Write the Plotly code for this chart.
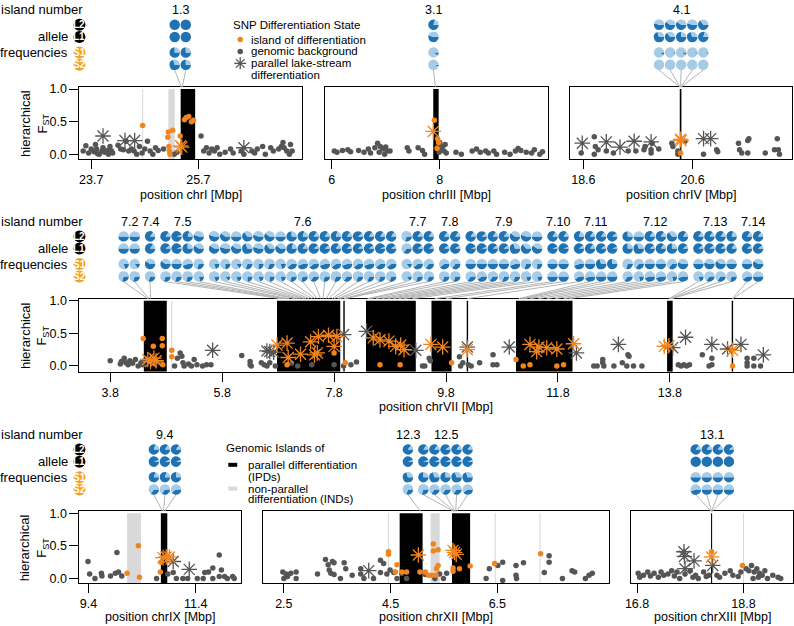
import plotly.graph_objects as go

W, H = 794, 626
FONT = "Arial"
DARK_BLUE = "#1f73b3"
LIGHT_BLUE = "#a6cbe6"
ORANGE = "#f08520"
GOLD = "#f6a21c"
GREY_PT = "#555555"
IND_GREY = "#d9d9d9"
LINK_GREY = "#b4b4b4"

# ---------------- data ----------------
# SNPs: (position [Mbp], hierarchical FST)
chrI_bg = [(23.55, 0.05), (23.6, 0.13), (23.65, 0.02), (23.7, 0.08), (23.75, 0.04), (23.78, 0.15), (23.8, 0.08),
           (23.82, 0.01), (23.85, 0.0), (23.9, 0.05), (23.92, 0.1), (23.95, 0.03), (24.0, 0.06), (24.02, 0.0),
           (24.05, 0.12), (24.08, 0.05), (24.1, 0.02), (24.2, 0.14), (24.25, 0.08), (24.3, 0.07), (24.35, 0.2),
           (24.4, 0.05), (24.45, 0.08), (24.5, 0.05), (24.55, 0.0), (24.6, 0.12), (24.65, 0.02), (24.7, 0.08),
           (24.75, 0.2), (24.8, 0.05), (24.85, 0.0), (24.9, 0.1), (24.95, 0.06), (25.05, 0.08), (25.25, 0.0),
           (25.3, 0.03), (25.75, 0.28), (25.8, 0.05), (25.85, 0.1), (25.9, 0.02), (25.95, 0.08), (26.0, 0.05),
           (26.05, 0.1), (26.1, 0.0), (26.2, 0.03), (26.3, 0.08), (26.35, 0.02), (26.5, 0.05), (26.55, 0.0),
           (26.7, 0.05), (26.75, 0.02), (26.8, 0.08), (26.9, 0.12), (26.95, 0.0), (27.05, 0.1), (27.1, 0.05),
           (27.2, 0.08), (27.25, 0.12), (27.28, 0.18), (27.3, 0.1), (27.35, 0.05), (27.4, 0.0), (27.42, 0.15),
           (27.45, 0.05)]
chrI_bg_star = [(23.92, 0.28), (24.33, 0.21), (24.51, 0.21), (26.55, 0.1)]
chrI_isl = [(24.66, 0.44), (25.14, 0.34), (25.13, 0.26), (25.15, 0.12), (25.16, 0.05), (25.17, 0.0), (25.22, 0.37),
            (25.36, 0.28), (25.44, 0.53), (25.47, 0.56), (25.52, 0.58), (25.57, 0.5), (25.61, 0.52)]
chrI_isl_star = [(25.37, 0.13), (25.39, 0.11)]

chrIII_bg = [(6.05, 0.05), (6.1, 0.03), (6.2, 0.06), (6.3, 0.07), (6.35, 0.04), (6.5, 0.06), (6.6, 0.03), (6.68, 0.08),
             (6.72, 0.02), (6.8, 0.1), (6.85, 0.17), (6.9, 0.12), (6.95, 0.08), (7.0, 0.11), (7.03, 0.05), (7.08, 0.05),
             (6.88, 0.03), (6.98, 0.0), (7.4, 0.1), (7.43, 0.05), (7.6, 0.1), (7.68, 0.06), (7.72, 0.0), (7.97, 0.12),
             (8.0, 0.18), (8.02, 0.08), (8.05, 0.12), (8.08, 0.05), (8.1, 0.15), (7.99, 0.03), (8.12, 0.02), (8.3, 0.03),
             (8.4, 0.0), (8.6, 0.05), (8.68, 0.08), (8.75, 0.03), (8.85, 0.05), (8.9, 0.02), (9.0, 0.05), (9.05, 0.0),
             (9.2, 0.03), (9.3, 0.0), (9.4, 0.05), (9.45, 0.09), (9.5, 0.06), (9.6, 0.03), (9.7, 0.02), (9.75, 0.07),
             (9.85, 0.0), (9.9, 0.04)]
chrIII_bg_star = []
chrIII_isl = [(7.9, 0.52), (7.96, 0.24), (7.98, 0.18), (7.95, 0.09)]
chrIII_isl_star = [(7.88, 0.35)]

chrIV_bg = [(18.56, 0.02), (18.8, 0.27), (18.8, 0.0), (18.82, 0.12), (18.87, 0.07), (19.02, 0.05), (19.15, 0.02),
            (19.42, 0.05), (19.56, 0.05), (19.71, 0.07), (19.73, 0.12), (19.84, 0.07), (19.84, 0.02), (19.86, 0.17),
            (19.98, 0.08), (20.22, 0.17), (20.24, 0.12), (20.33, 0.05), (20.33, 0.0), (20.46, 0.2), (20.8, 0.0),
            (21.04, 0.07), (21.06, 0.04), (21.44, 0.17), (21.46, 0.07), (21.5, 0.02), (21.61, 0.21), (21.63, 0.24),
            (21.61, 0.02), (21.93, 0.02), (22.1, 0.07), (22.15, 0.24), (22.17, 0.07), (22.19, 0.0)]
chrIV_bg_star = [(18.58, 0.17), (19.02, 0.19), (19.27, 0.11), (19.53, 0.2), (19.84, 0.19), (20.8, 0.24), (20.93, 0.24)]
chrIV_isl = [(20.38, 0.02)]
chrIV_isl_star = [(20.38, 0.23), (20.39, 0.21)]

chrVII_bg = [(3.8, 0.08), (3.98, 0.03), (4.0, 0.07), (4.05, 0.12), (4.08, 0.05), (4.12, 0.02), (4.15, 0.08), (4.2, 0.04),
             (4.25, 0.1), (4.3, 0.0), (4.35, 0.05), (4.38, 0.02), (4.42, 0.08), (4.6, 0.03), (4.7, 0.05), (4.95, 0.0),
             (5.0, 0.12), (5.05, 0.2), (5.08, 0.15), (5.1, 0.05), (5.12, 0.0), (5.2, 0.03), (5.25, 0.0), (5.3, 0.1),
             (5.35, 0.02), (5.45, 0.0), (5.52, 0.02), (5.6, 0.02), (6.15, 0.16), (6.3, 0.07), (6.3, 0.02), (6.32, 0.0),
             (6.5, 0.05), (6.55, 0.02), (6.6, 0.0), (6.65, 0.05), (6.75, 0.0), (7.04, 0.04), (7.15, 0.0), (7.4, 0.02),
             (7.8, 0.02), (7.97, 0.0), (8.1, 0.02), (8.2, 0.06), (9.38, 0.0), (9.42, 0.0), (9.5, 0.12), (9.52, 0.08),
             (10.04, 0.14), (10.06, 0.0), (10.1, 0.05), (10.2, 0.02), (10.25, 0.0), (10.4, 0.05), (10.64, 0.17),
             (10.64, 0.02), (10.71, 0.02), (12.44, 0.0), (12.5, 0.0), (12.6, 0.1), (12.6, 0.05), (12.62, 0.0),
             (12.8, 0.0), (12.95, 0.05), (13.05, 0.17), (13.07, 0.15), (13.03, 0.0), (13.15, 0.0), (13.3, 0.0),
             (13.95, 0.02), (14.0, 0.0), (14.05, 0.02), (14.1, 0.0), (14.15, 0.02), (14.38, 0.17), (14.55, 0.12),
             (14.5, 0.0), (14.55, 0.02), (15.18, 0.12), (15.18, 0.05), (15.18, 0.0), (15.3, 0.12), (15.3, 0.0),
             (15.42, 0.0)]
chrVII_bg_star = [(5.63, 0.24), (6.6, 0.23), (6.65, 0.22), (6.72, 0.21), (7.97, 0.48), (8.38, 0.53), (9.26, 0.24),
                  (10.18, 0.29), (10.93, 0.29), (12.13, 0.2), (12.88, 0.33), (13.85, 0.28), (14.08, 0.44),
                  (14.55, 0.33), (14.83, 0.26), (15.07, 0.33), (15.47, 0.17)]
chrVII_isl = [(4.39, 0.42), (4.57, 0.3), (4.5, 0.07), (4.73, 0.42), (4.73, 0.31), (4.74, 0.02), (4.9, 0.24),
              (4.9, 0.14), (6.96, 0.02), (7.8, 0.2), (8.0, 0.05), (8.62, 0.02), (8.98, 0.02), (9.9, 0.05),
              (11.05, 0.1), (11.18, 0.0), (11.3, 0.02), (11.78, 0.0), (11.9, 0.02), (14.92, 0.0)]
chrVII_isl_star = [(4.47, 0.1), (4.52, 0.07), (4.58, 0.12), (4.62, 0.08), (6.78, 0.32), (6.96, 0.35), (6.98, 0.13),
                   (7.2, 0.18), (7.38, 0.37), (7.45, 0.17), (7.5, 0.2), (7.52, 0.45), (7.7, 0.47), (7.8, 0.3),
                   (7.85, 0.45), (8.5, 0.43), (8.62, 0.4), (8.78, 0.38), (8.9, 0.3), (8.99, 0.32), (9.05, 0.25),
                   (9.53, 0.33), (9.74, 0.29), (10.18, 0.25), (11.3, 0.33), (11.46, 0.29), (11.6, 0.28),
                   (11.42, 0.22), (11.78, 0.26), (12.08, 0.34), (13.7, 0.3), (13.78, 0.31), (14.92, 0.24)]

chrIX_bg = [(9.39, 0.26), (9.42, 0.07), (9.52, 0.0), (9.64, 0.08), (9.65, 0.04), (9.81, 0.04), (9.93, 0.4), (9.9, 0.08),
            (9.96, 0.1), (10.02, 0.04), (10.67, 0.0), (10.88, 0.07), (10.98, 0.09), (11.04, 0.0), (11.16, 0.0),
            (11.25, 0.0), (11.43, 0.0), (11.54, 0.0), (11.57, 0.09), (11.64, 0.1), (11.72, 0.16), (11.72, 0.0),
            (11.84, 0.36), (11.88, 0.13), (11.84, 0.03), (11.94, 0.03), (11.99, 0.0), (12.09, 0.03), (12.12, 0.0)]
chrIX_bg_star = [(10.98, 0.26), (11.28, 0.14)]
chrIX_isl = [(10.12, 0.08), (10.33, 0.5), (10.35, 0.02), (10.75, 0.25), (10.74, 0.1)]
chrIX_isl_star = [(10.79, 0.32), (10.85, 0.33), (10.91, 0.33)]

chrXII_bg = [(2.48, 0.1), (2.54, 0.07), (2.63, 0.08), (2.73, 0.1), (2.5, 0.0), (2.57, 0.03), (2.73, 0.0), (3.13, 0.07),
             (3.28, 0.29), (3.33, 0.21), (3.41, 0.26), (3.44, 0.24), (3.35, 0.13), (3.38, 0.08), (3.44, 0.06),
             (3.56, 0.0), (3.63, 0.24), (3.66, 0.15), (3.78, 0.05), (3.94, 0.15), (3.94, 0.07), (4.0, 0.0),
             (4.18, 0.0), (4.31, 0.28), (4.31, 0.09), (4.37, 0.23), (4.43, 0.07), (4.49, 0.13), (4.56, 0.09),
             (4.62, 0.0), (4.71, 0.08), (4.8, 0.0), (5.15, 0.06), (5.33, 0.0), (5.42, 0.07), (5.49, 0.0), (5.55, 0.08),
             (6.29, 0.0), (6.35, 0.15), (6.51, 0.2), (6.6, 0.25), (6.6, -0.03), (6.85, 0.2), (6.85, 0.05),
             (6.86, 0.0), (6.99, 0.24), (7.38, 0.09), (7.47, 0.35), (7.47, 0.25), (7.72, 0.0), (7.9, 0.12),
             (7.95, 0.1), (8.15, 0.0), (8.22, 0.05), (8.28, 0.08)]
chrXII_bg_star = [(4.09, 0.12)]
chrXII_isl = [(4.46, 0.41), (4.46, 0.37), (4.62, 0.21), (4.59, 0.1), (4.71, 0.1), (4.8, 0.1), (5.05, 0.1), (5.15, 0.1),
              (5.21, 0.05), (5.27, 0.05), (5.35, 0.05), (5.3, 0.53), (5.3, 0.42), (5.39, 0.44), (5.39, 0.2),
              (5.36, 0.15), (5.67, 0.16), (5.67, 0.11), (5.79, 0.15), (5.99, 0.19), (6.45, 0.23), (7.31, 0.38)]
chrXII_isl_star = [(5.02, 0.36), (5.67, 0.43), (5.7, 0.4), (5.73, 0.37)]

chrXIII_bg = [(16.82, 0.08), (16.85, 0.02), (16.92, 0.05), (17.0, 0.1), (17.05, 0.04), (17.12, 0.08), (17.2, 0.02),
              (17.25, 0.1), (17.3, 0.05), (17.38, 0.07), (17.45, 0.12), (17.5, 0.04), (17.55, 0.1), (17.6, 0.0),
              (17.7, 0.07), (17.8, 0.12), (17.85, 0.02), (17.9, 0.05), (17.95, 0.0), (18.05, 0.1), (18.1, 0.03),
              (18.15, 0.05), (18.3, 0.05), (18.35, 0.02), (18.45, 0.08), (18.55, 0.12), (18.6, 0.05), (18.7, 0.03),
              (18.75, 0.1), (18.85, 0.15), (18.9, 0.12), (18.95, 0.2), (19.0, 0.1), (19.05, 0.15), (19.1, 0.08),
              (19.15, 0.05), (19.2, 0.12), (19.25, 0.0), (19.35, 0.05), (19.45, 0.02), (19.5, 0.0), (18.98, 0.0),
              (19.08, 0.02)]
chrXIII_bg_star = [(17.68, 0.41), (17.69, 0.34), (17.87, 0.27), (17.7, 0.15), (18.22, 0.2)]
chrXIII_isl = [(18.2, 0.41), (18.78, 0.2)]
chrXIII_isl_star = [(18.2, 0.33)]

# genomic islands: (start, end) in Mbp
chrI_ipd = [(25.37, 25.64)]
chrI_ind = [(24.65, 24.67), (25.14, 25.26)]
chrIII_ipd = [(7.88, 7.98)]
chrIII_ind = []
chrIV_ipd = [(20.365, 20.395)]
chrIV_ind = []
chrVII_ipd = [(4.40, 4.81), (6.78, 7.91), (7.965, 7.99), (8.37, 9.26), (9.54, 9.90), (10.17, 10.195),
              (11.05, 12.06), (13.75, 13.85), (14.905, 14.93)]
chrVII_ind = [(4.89, 4.91)]
chrIX_ipd = [(10.75, 10.87)]
chrIX_ind = [(10.12, 10.38)]
chrXII_ipd = [(4.67, 5.10), (5.65, 5.99)]
chrXII_ind = [(4.45, 4.47), (5.25, 5.42), (6.45, 6.47), (7.29, 7.31)]
chrXIII_ipd = [(18.19, 18.21)]
chrXIII_ind = [(18.79, 18.81)]

# allele frequency pies: island labels, SNPs per island, SNP positions and dark-allele share per row
chrI_groups, chrI_counts = ["1.3"], [2]
chrI_snp = [25.38, 25.40]
chrI_L2, chrI_L1, chrI_S1, chrI_S2 = [1.0, 1.0], [1.0, 1.0], [0.75, 0.75], [0.7, 0.75]

chrIII_groups, chrIII_counts = ["3.1"], [1]
chrIII_snp = [7.92]
chrIII_L2, chrIII_L1, chrIII_S1, chrIII_S2 = [0.8], [0.55], [0.1], [0.05]

chrIV_groups, chrIV_counts = ["4.1"], [5]
chrIV_snp = [20.37, 20.375, 20.38, 20.385, 20.39]
chrIV_L2 = [0.55, 0.6, 0.6, 0.55, 0.65]
chrIV_L1 = [0.7, 0.65, 0.75, 0.7, 0.8]
chrIV_S1 = [0.08, 0.05, 0.08, 0.05, 0.05]
chrIV_S2 = [0.0, 0.0, 0.0, 0.0, 0.0]

chrVII_groups = ["7.2", "7.4", "7.5", "7.6", "7.7", "7.8", "7.9", "7.10", "7.11", "7.12", "7.13", "7.14"]
chrVII_counts = [2, 1, 4, 17, 3, 2, 7, 2, 4, 6, 4, 2]
chrVII_snp = [4.47, 4.49, 4.52,
              6.85, 6.9, 6.95, 7.0,
              7.1, 7.14, 7.2, 7.26, 7.3, 7.35, 7.41, 7.46, 7.5, 7.56, 7.6, 7.66, 7.7, 7.76, 7.8, 7.86, 7.9,
              7.97, 7.98, 7.99,
              8.40, 8.45,
              8.55, 8.65, 8.75, 8.85, 8.95, 9.05, 9.2,
              9.6, 9.8,
              10.18, 11.1, 11.15, 11.2,
              11.3, 11.45, 11.6, 11.75, 11.9, 12.0,
              13.78, 13.8, 13.82, 13.83,
              14.915, 14.925]
chrVII_L2 = [0.5, 0.5, 0.85, 0.85, 0.95, 0.8, 0.55,
             0.55, 0.6, 0.5, 0.65, 0.55, 0.6, 0.5, 0.75, 0.8, 0.85, 0.85, 0.8, 0.85, 0.9, 0.85, 0.85, 0.85,
             0.3, 0.85, 0.85, 0.85, 0.85, 0.85, 0.9, 0.85, 0.85, 0.6, 0.55, 0.5, 0.85, 0.85,
             0.8, 0.85, 0.85, 0.9, 0.75, 0.5, 0.85, 0.85, 0.65, 0.85, 0.85, 0.85, 0.85, 0.8, 0.85, 0.85]
chrVII_L1 = [0.5, 0.5, 0.85, 0.9, 0.95, 0.75, 0.6,
             0.6, 0.55, 0.6, 0.7, 0.55, 0.65, 0.6, 0.8, 0.85, 0.9, 0.9, 0.85, 0.9, 0.9, 0.9, 0.95, 0.9,
             0.35, 0.9, 0.9, 0.9, 0.9, 0.95, 0.95, 0.9, 0.9, 0.7, 0.65, 0.6, 0.95, 0.95,
             0.9, 0.85, 0.9, 0.95, 0.75, 0.7, 0.9, 0.85, 0.75, 0.9, 0.9, 0.9, 0.9, 0.85, 0.9, 0.9]
chrVII_S1 = [0.2, 0.15, 0.6, 0.6, 0.5, 0.45, 0.3,
             0.2, 0.25, 0.15, 0.3, 0.25, 0.3, 0.2, 0.4, 0.45, 0.4, 0.45, 0.4, 0.45, 0.4, 0.45, 0.4, 0.4,
             0.15, 0.4, 0.35, 0.4, 0.35, 0.5, 0.5, 0.5, 0.5, 0.45, 0.3, 0.25, 0.5, 0.5,
             0.45, 0.5, 0.7, 0.75, 0.3, 0.35, 0.5, 0.5, 0.35, 0.55, 0.5, 0.55, 0.6, 0.5, 0.5, 0.6]
chrVII_S2 = [0.3, 0.3, 0.3, 0.3, 0.3, 0.3, 0.2,
             0.2, 0.15, 0.2, 0.25, 0.2, 0.25, 0.2, 0.3, 0.3, 0.35, 0.3, 0.3, 0.35, 0.3, 0.3, 0.3, 0.3,
             0.15, 0.3, 0.3, 0.3, 0.3, 0.35, 0.4, 0.35, 0.3, 0.3, 0.2, 0.2, 0.5, 0.5,
             0.4, 0.45, 0.5, 0.5, 0.35, 0.2, 0.45, 0.45, 0.2, 0.45, 0.2, 0.35, 0.35, 0.3, 0.4, 0.5]

chrIX_groups, chrIX_counts = ["9.4"], [3]
chrIX_snp = [10.78, 10.80, 10.82]
chrIX_L2, chrIX_L1 = [0.8, 0.85, 0.85], [0.95, 0.95, 0.95]
chrIX_S1, chrIX_S2 = [0.8, 0.8, 0.75], [0.35, 0.35, 0.4]

chrXII_groups, chrXII_counts = ["12.3", "12.5"], [1, 5]
chrXII_snp = [5.06, 5.68, 5.70, 5.71, 5.72, 5.74]
chrXII_L2 = [0.85, 0.85, 0.85, 0.9, 0.85, 0.85]
chrXII_L1 = [0.95, 0.95, 0.95, 0.95, 0.95, 0.95]
chrXII_S1 = [0.7, 0.75, 0.7, 0.75, 0.7, 0.7]
chrXII_S2 = [0.3, 0.3, 0.35, 0.35, 0.35, 0.4]

chrXIII_groups, chrXIII_counts = ["13.1"], [4]
chrXIII_snp = [18.19, 18.20, 18.20, 18.21]
chrXIII_L2, chrXIII_L1 = [0.85, 0.85, 0.85, 0.9], [1.0, 1.0, 1.0, 1.0]
chrXIII_S1, chrXIII_S2 = [0.5, 0.5, 0.5, 0.5], [0.45, 0.5, 0.5, 0.5]

# ---------------- layout (pixels) ----------------
ROW_TOP = {"top": 20, "mid": 234, "bot": 449.5}       # y of L2 pie row
ROW_OFF = [0, 12.3, 28, 40.5]                           # L2, L1, S1, S2
PIE_R = 5.3
PIE_STEP, GROUP_GAP = 11.15, 4.4

panels = [
    dict(chrom="chrI", row="top", box=(74, 298, 83, 156), xr=(23.48, 27.63), yr=(-0.076, 1.03),
         ticks=[23.7, 25.7], ylab=True, pie_x=170,
         bg=chrI_bg, bgs=chrI_bg_star, isl=chrI_isl, isls=chrI_isl_star, ipd=chrI_ipd, ind=chrI_ind,
         groups=chrI_groups, counts=chrI_counts, snp=chrI_snp, fr=[chrI_L2, chrI_L1, chrI_S1, chrI_S2]),
    dict(chrom="chrIII", row="top", box=(321, 546, 83, 156), xr=(5.87, 10.0), yr=(-0.076, 1.03),
         ticks=[6, 8], ylab=False, pie_x=430.7,
         bg=chrIII_bg, bgs=chrIII_bg_star, isl=chrIII_isl, isls=chrIII_isl_star, ipd=chrIII_ipd, ind=chrIII_ind,
         groups=chrIII_groups, counts=chrIII_counts, snp=chrIII_snp,
         fr=[chrIII_L2, chrIII_L1, chrIII_S1, chrIII_S2]),
    dict(chrom="chrIV", row="top", box=(568, 792, 83, 156), xr=(18.35, 22.42), yr=(-0.076, 1.03),
         ticks=[18.6, 20.6], ylab=False, pie_x=658,
         bg=chrIV_bg, bgs=chrIV_bg_star, isl=chrIV_isl, isls=chrIV_isl_star, ipd=chrIV_ipd, ind=chrIV_ind,
         groups=chrIV_groups, counts=chrIV_counts, snp=chrIV_snp, fr=[chrIV_L2, chrIV_L1, chrIV_S1, chrIV_S2]),
    dict(chrom="chrVII", row="mid", box=(74, 793, 297, 371), xr=(3.25, 16.0), yr=(-0.09, 1.03),
         ticks=[3.8, 5.8, 7.8, 9.8, 11.8, 13.8], ylab=True, pie_x=118.5,
         bg=chrVII_bg, bgs=chrVII_bg_star, isl=chrVII_isl, isls=chrVII_isl_star, ipd=chrVII_ipd, ind=chrVII_ind,
         groups=chrVII_groups, counts=chrVII_counts, snp=chrVII_snp,
         fr=[chrVII_L2, chrVII_L1, chrVII_S1, chrVII_S2]),
    dict(chrom="chrIX", row="bot", box=(74, 237, 512, 585), xr=(9.23, 12.25), yr=(-0.076, 1.03),
         ticks=[9.4, 11.4], ylab=True, pie_x=149,
         bg=chrIX_bg, bgs=chrIX_bg_star, isl=chrIX_isl, isls=chrIX_isl_star, ipd=chrIX_ipd, ind=chrIX_ind,
         groups=chrIX_groups, counts=chrIX_counts, snp=chrIX_snp, fr=[chrIX_L2, chrIX_L1, chrIX_S1, chrIX_S2]),
    dict(chrom="chrXII", row="bot", box=(259, 608, 512, 585), xr=(2.11, 8.60), yr=(-0.076, 1.03),
         ticks=[2.5, 4.5, 6.5], ylab=False, pie_x=405,
         bg=chrXII_bg, bgs=chrXII_bg_star, isl=chrXII_isl, isls=chrXII_isl_star, ipd=chrXII_ipd, ind=chrXII_ind,
         groups=chrXII_groups, counts=chrXII_counts, snp=chrXII_snp,
         fr=[chrXII_L2, chrXII_L1, chrXII_S1, chrXII_S2]),
    dict(chrom="chrXIII", row="bot", box=(630, 793, 512, 585), xr=(16.69, 19.73), yr=(-0.076, 1.03),
         ticks=[16.8, 18.8], ylab=False, pie_x=695,
         bg=chrXIII_bg, bgs=chrXIII_bg_star, isl=chrXIII_isl, isls=chrXIII_isl_star, ipd=chrXIII_ipd,
         ind=chrXIII_ind, groups=chrXIII_groups, counts=chrXIII_counts, snp=chrXIII_snp,
         fr=[chrXIII_L2, chrXIII_L1, chrXIII_S1, chrXIII_S2]),
]
XTITLE_Y = {"top": 192, "mid": 407, "bot": 619}


def px(p):
    return p / W


def py(p):
    return 1 - p / H


fig = go.Figure()
layout = {}
shapes = []
annotations = []
link_x, link_y = [], []


def ann(text, x, y, size=12.5, xanchor="center", yanchor="middle", angle=0):
    annotations.append(dict(text=text, x=px(x), y=py(y), xref="paper", yref="paper", showarrow=False,
                            xanchor=xanchor, yanchor=yanchor, textangle=angle,
                            font=dict(family=FONT, size=size, color="black")))


for i, p in enumerate(panels, start=1):
    x0, x1, y0, y1 = p["box"]
    xa, ya = f"x{i}", f"y{i}"
    layout[f"xaxis{i}"] = dict(domain=[px(x0), px(x1)], range=list(p["xr"]), anchor=ya,
                               showgrid=False, zeroline=False, showline=True, mirror=True,
                               linecolor="black", linewidth=1, ticks="outside", ticklen=9,
                               tickcolor="black", tickvals=p["ticks"], ticktext=[f"{t:g}" for t in p["ticks"]],
                               tickfont=dict(family=FONT, size=12.5, color="black"), fixedrange=True)
    layout[f"yaxis{i}"] = dict(domain=[py(y1), py(y0)], range=list(p["yr"]), anchor=xa,
                               showgrid=False, zeroline=False, showline=True, mirror=True,
                               linecolor="black", linewidth=1,
                               ticks="outside" if p["ylab"] else "", ticklen=9, tickcolor="black",
                               showticklabels=p["ylab"], tickvals=[0, 0.5, 1.0],
                               ticktext=["0.0", "0.5", "1.0"],
                               tickfont=dict(family=FONT, size=12.5, color="black"), fixedrange=True)

    # islands
    for (a, b) in p["ind"]:
        shapes.append(dict(type="rect", xref=xa, yref=ya, x0=a, x1=b, y0=p["yr"][0], y1=1.0,
                           fillcolor=IND_GREY, line=dict(width=0), layer="below"))
    for (a, b) in p["ipd"]:
        shapes.append(dict(type="rect", xref=xa, yref=ya, x0=a, x1=b, y0=p["yr"][0], y1=1.0,
                           fillcolor="black", line=dict(width=0), layer="below"))

    # SNPs
    for pts, col, star in [(p["bg"], GREY_PT, False), (p["bgs"], GREY_PT, True),
                           (p["isl"], ORANGE, False), (p["isls"], ORANGE, True)]:
        if not pts:
            continue
        xs, ys = zip(*pts)
        if star:
            mk = dict(symbol="asterisk-open", size=13, color=col, line=dict(color=col, width=1.3))
        else:
            mk = dict(symbol="circle", size=5.5, color=col, line=dict(width=0))
        fig.add_trace(go.Scatter(x=xs, y=ys, mode="markers", marker=mk, xaxis=xa, yaxis=ya,
                                 showlegend=False, hoverinfo="skip"))

    # axis titles
    ann(f"position {p['chrom']} [Mbp]", (x0 + x1) / 2, XTITLE_Y[p["row"]])
    if p["ylab"]:
        ann("hierarchical<br>F<sub>ST</sub>", 29, (y0 + y1) / 2, size=13, angle=-90)

    # pie columns
    top = ROW_TOP[p["row"]]
    cx = p["pie_x"]
    col_x = []
    for g, (lab, n) in enumerate(zip(p["groups"], p["counts"])):
        if g > 0:
            cx += GROUP_GAP
        xs_g = []
        for k in range(n):
            xs_g.append(cx)
            cx += PIE_STEP
        col_x.extend(xs_g)
        ann(lab, (xs_g[0] + xs_g[-1]) / 2, top - 15)
    for j, c in enumerate(col_x):
        for r in range(4):
            cy = top + ROW_OFF[r]
            f = p["fr"][r][j]
            fig.add_trace(go.Pie(values=[f, 1 - f], labels=["dark", "light"], sort=False,
                                 direction="clockwise", rotation=90,
                                 marker=dict(colors=[DARK_BLUE, LIGHT_BLUE], line=dict(width=0)),
                                 textinfo="none", hoverinfo="skip", showlegend=False,
                                 domain=dict(x=[px(c - PIE_R), px(c + PIE_R)],
                                             y=[py(cy + PIE_R), py(cy - PIE_R)])))
        # connector from pie to SNP position
        sx = x0 + (p["snp"][j] - p["xr"][0]) / (p["xr"][1] - p["xr"][0]) * (x1 - x0)
        link_x += [c, sx, None]
        link_y += [top + ROW_OFF[3] + PIE_R, y0, None]

# overlay axis in pixel units for connectors, left keys and legends
layout["xaxis8"] = dict(domain=[0, 1], range=[0, W], anchor="y8", visible=False, fixedrange=True)
layout["yaxis8"] = dict(domain=[0, 1], range=[H, 0], anchor="x8", visible=False, fixedrange=True)

fig.add_trace(go.Scatter(x=link_x, y=link_y, mode="lines", line=dict(color=LINK_GREY, width=1),
                         xaxis="x8", yaxis="y8", showlegend=False, hoverinfo="skip"))

# left-hand keys
key_x, key_y, key_c = [], [], []
for row, top in ROW_TOP.items():
    ann("island number", 80, top - 15, size=13, xanchor="right")
    ann("allele", 64, top + ROW_OFF[1], size=13, xanchor="right")
    ann("frequencies", 64, top + ROW_OFF[2], size=13, xanchor="right")
    for r, (t, c) in enumerate([("L2", "black"), ("L1", "black"), ("S1", GOLD), ("S2", GOLD)]):
        key_x.append(74)
        key_y.append(top + ROW_OFF[r])
        key_c.append(c)
        annotations.append(dict(text=f"<b>{t}</b>", x=px(74), y=py(top + ROW_OFF[r]), xref="paper",
                                yref="paper", showarrow=False, xanchor="center", yanchor="middle",
                                font=dict(family=FONT, size=10, color="white")))
fig.add_trace(go.Scatter(x=key_x, y=key_y, mode="markers",
                         marker=dict(size=12, color=key_c, line=dict(width=0)),
                         xaxis="x8", yaxis="y8", showlegend=False, hoverinfo="skip"))

# legend: SNP differentiation state
ann("SNP Differentiation State", 227, 20, size=11.5, xanchor="left")
fig.add_trace(go.Scatter(x=[236, 236], y=[35, 47], mode="markers",
                         marker=dict(size=5.5, color=[ORANGE, GREY_PT], line=dict(width=0)),
                         xaxis="x8", yaxis="y8", showlegend=False, hoverinfo="skip"))
fig.add_trace(go.Scatter(x=[236], y=[59], mode="markers",
                         marker=dict(symbol="asterisk-open", size=10, color=GREY_PT,
                                     line=dict(color=GREY_PT, width=1.3)),
                         xaxis="x8", yaxis="y8", showlegend=False, hoverinfo="skip"))
ann("island of differentiation", 245, 35, size=11.5, xanchor="left")
ann("genomic background", 245, 47, size=11.5, xanchor="left")
ann("parallel lake-stream", 245, 59, size=11.5, xanchor="left")
ann("differentiation", 245, 71, size=11.5, xanchor="left")

# legend: genomic islands
ann("Genomic Islands of", 220, 448, size=11.5, xanchor="left")
fig.add_trace(go.Scatter(x=[224, 233], y=[465, 465], mode="lines",
                         line=dict(color="black", width=4), xaxis="x8", yaxis="y8",
                         showlegend=False, hoverinfo="skip"))
fig.add_trace(go.Scatter(x=[224, 233], y=[489, 489], mode="lines", line=dict(color=IND_GREY, width=4),
                         xaxis="x8", yaxis="y8", showlegend=False, hoverinfo="skip"))
ann("parallel differentiation", 242, 465, size=11.5, xanchor="left")
ann("(IPDs)", 242, 477, size=11.5, xanchor="left")
ann("non-parallel", 242, 489, size=11.5, xanchor="left")
ann("differentiation (INDs)", 242, 500, size=11.5, xanchor="left")

fig.update_layout(width=W, height=H, margin=dict(l=0, r=0, t=0, b=0),
                  paper_bgcolor="white", plot_bgcolor="rgba(0,0,0,0)",
                  font=dict(family=FONT, size=12.5, color="black"),
                  shapes=shapes, annotations=annotations, showlegend=False, **layout)

# page body has a default 8px margin; drop it so the figure sits at the window's corner
fig.write_html("out.html", config={"displayModeBar": False},
               post_script="document.body.style.margin='0';")
